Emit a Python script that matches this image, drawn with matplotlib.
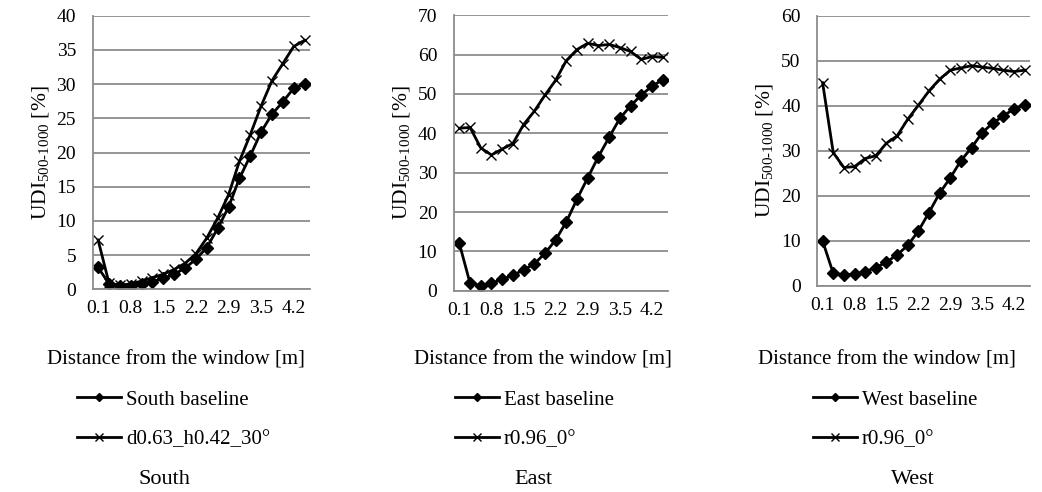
import matplotlib
matplotlib.use("Agg")
import matplotlib.pyplot as plt

plt.rcParams["font.family"] = ["Liberation Serif", "DejaVu Serif"]
plt.rcParams["mathtext.fontset"] = "custom"
plt.rcParams["mathtext.rm"] = "Liberation Serif"
plt.rcParams["mathtext.default"] = "regular"

# distance points (categories); only every third one is labelled
tick_idx = [0, 3, 6, 9, 12, 15, 18]
tick_labels = ["0.1", "0.8", "1.5", "2.2", "2.9", "3.5", "4.2"]
n_points = 20

south_base = [3.2, 0.8, 0.5, 0.55, 0.8, 1.1, 1.6, 2.2, 3.1, 4.4,
              6.1, 8.9, 12.0, 16.2, 19.5, 23.0, 25.6, 27.4, 29.4, 30.0]
south_opt = [7.2, 0.9, 0.6, 0.8, 1.2, 1.7, 2.2, 2.9, 3.8, 5.2,
             7.5, 10.4, 13.8, 18.7, 22.6, 26.8, 30.5, 33.0, 35.5, 36.4]
east_base = [12.0, 1.9, 1.3, 1.9, 2.9, 3.9, 5.3, 6.8, 9.5, 12.9,
             17.5, 23.3, 28.7, 34.1, 39.0, 43.8, 47.0, 49.7, 52.0, 53.6]
east_opt = [41.3, 41.5, 36.3, 34.5, 36.0, 37.4, 42.2, 45.6, 49.7, 53.5,
            58.5, 61.3, 62.9, 62.3, 62.6, 61.8, 60.8, 58.8, 59.5, 59.3]
west_base = [10.0, 2.8, 2.5, 2.6, 3.2, 4.1, 5.3, 6.9, 9.0, 12.2,
             16.3, 20.6, 24.0, 27.8, 30.7, 34.0, 36.2, 37.7, 39.4, 40.2]
west_opt = [45.1, 29.6, 26.3, 26.5, 28.3, 28.9, 31.7, 33.3, 37.0, 40.1,
            43.3, 45.9, 47.9, 48.4, 48.9, 48.6, 48.3, 47.9, 47.6, 47.9]

panels = [
    ("South", south_base, "South baseline", south_opt, "d0.63_h0.42_30°", 40, 5),
    ("East", east_base, "East baseline", east_opt, "r0.96_0°", 70, 10),
    ("West", west_base, "West baseline", west_opt, "r0.96_0°", 60, 10),
]

W, H = 1042, 492
fig = plt.figure(figsize=(W / 100, H / 100), dpi=100)

# axes boxes in pixels: left, top, right, bottom
boxes = [(92.7, 15.7, 310, 289.3), (454, 15.3, 668, 290.7), (817.3, 15.7, 1030, 286)]
xlabel_x = [176, 543, 887]
legend_x = [77, 455, 813]
title_x = [164, 533, 913]

grey = "#8c8c8c"
for i, (name, base, base_lbl, opt, opt_lbl, ymax, ystep) in enumerate(panels):
    l, t, r, b = boxes[i]
    ax = fig.add_axes([l / W, 1 - b / H, (r - l) / W, (b - t) / H])
    x = list(range(n_points))
    h1, = ax.plot(x, base, color="black", lw=2, marker="D", ms=6,
                  mec="black", mfc="black", label=base_lbl)
    h2, = ax.plot(x, opt, color="black", lw=2, marker="x", ms=7,
                  mew=1, label=opt_lbl)
    ax.set_xlim(-0.5, n_points - 0.5)
    ax.set_ylim(0, ymax)
    ax.set_yticks(range(0, ymax + 1, ystep))
    ax.set_xticks(tick_idx)
    ax.set_xticklabels(tick_labels)
    ax.tick_params(length=0, labelsize=14)
    ax.tick_params(axis="y", pad=12)
    ax.tick_params(axis="x", pad=8)
    ax.grid(axis="y", color=grey, lw=1.3)
    ax.set_axisbelow(True)
    for s in ("top", "right"):
        ax.spines[s].set_visible(False)
    for s in ("left", "bottom"):
        ax.spines[s].set_color(grey)
        ax.spines[s].set_linewidth(1.3)
    ax.set_ylabel("UDI$_{500‐1000}$ [%]", fontsize=15.5, labelpad=4)

    fig.text(xlabel_x[i] / W, 1 - 360 / H, "Distance from the window [m]",
             ha="center", va="center", fontsize=15)
    fig.legend(handles=[h1, h2], loc="upper left",
               bbox_to_anchor=(legend_x[i] / W, 1 - 390 / H),
               frameon=False, fontsize=15, borderpad=0, borderaxespad=0,
               handlelength=2.1, handletextpad=0.25, labelspacing=0.95,
               markerscale=0.75)
    fig.text(title_x[i] / W, 1 - 479 / H, name, ha="center", va="center",
             fontsize=16)

fig.savefig("out.png", dpi=100)
